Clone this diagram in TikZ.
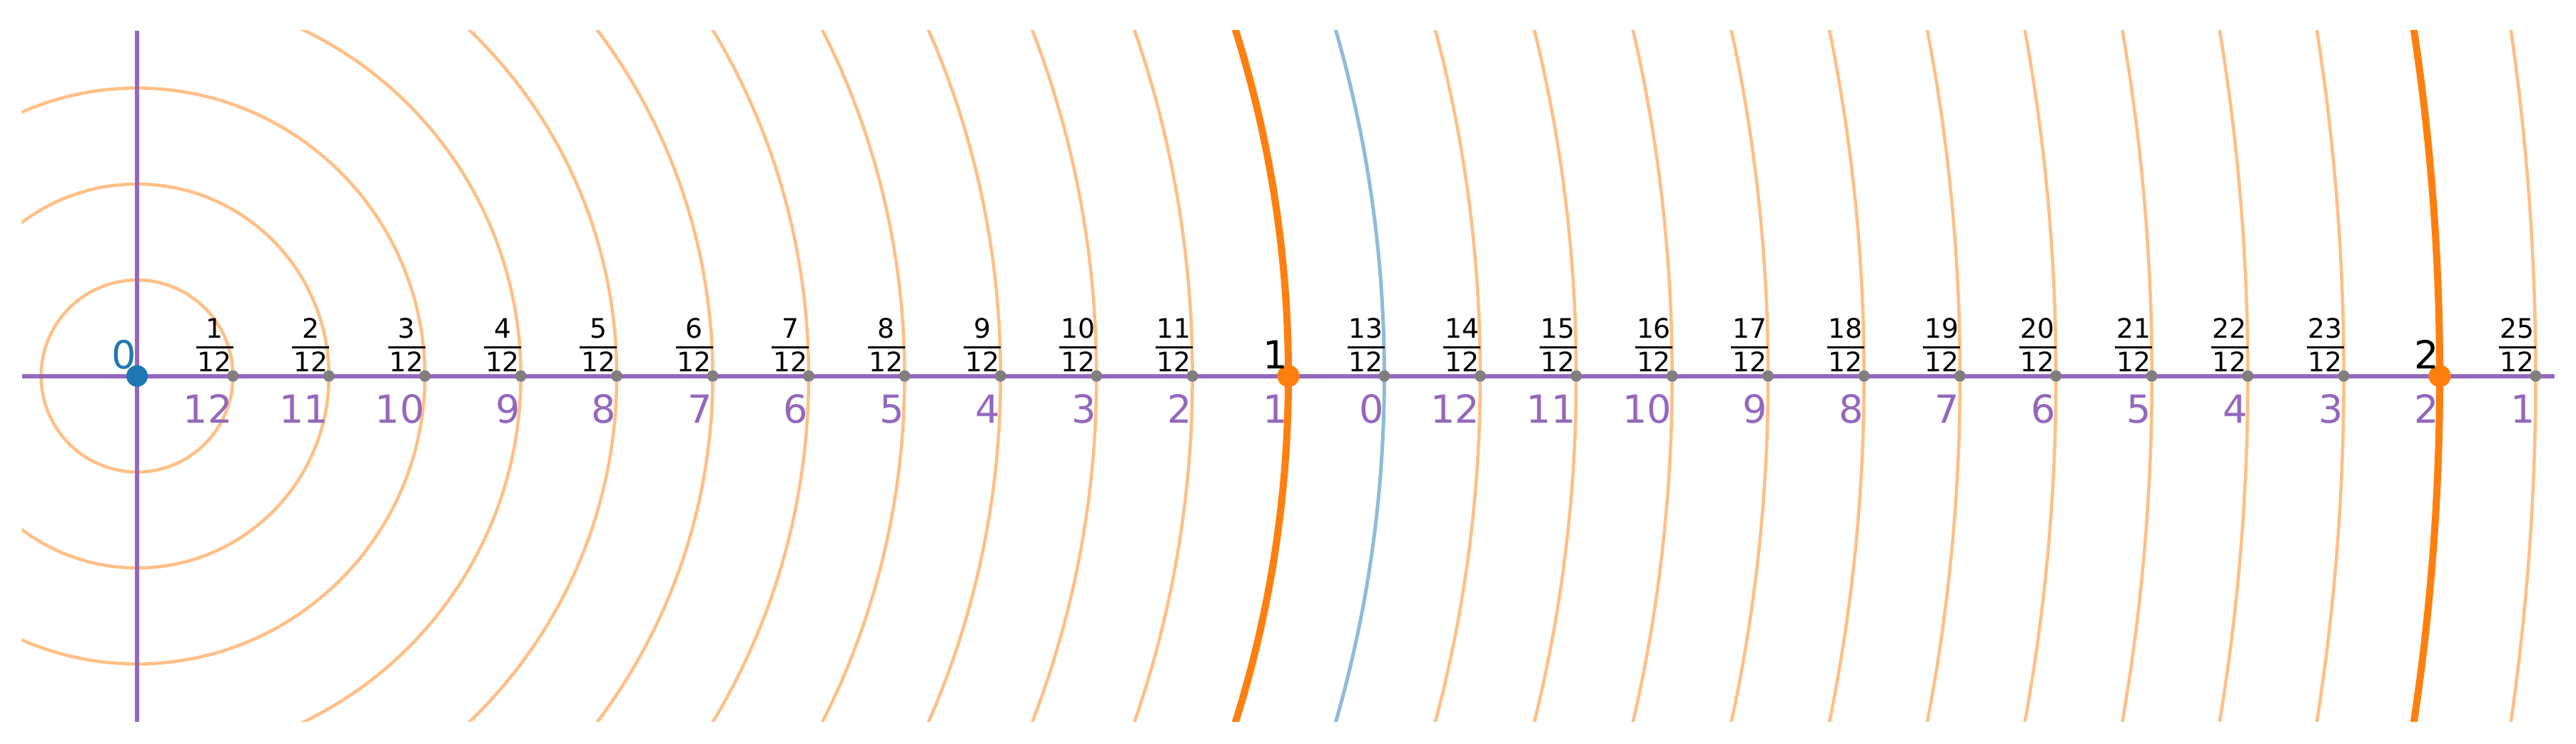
\documentclass[tikz,border=0pt]{standalone}
\usepackage{fontspec}
\setmainfont{DejaVu Sans}
\definecolor{tpurple}{HTML}{9467BD}
\definecolor{torange}{HTML}{FF7F0E}
\definecolor{tblue}{HTML}{1F77B4}
\definecolor{tgray}{HTML}{7F7F7F}
\definecolor{lorange}{RGB}{255,191,134}
\definecolor{lblue}{RGB}{143,187,217}
\newcommand{\twelfth}[1]{\vbox{\hbox to 0.52cm{\hss#1\hss}\kern0.112cm\hrule height 0.03cm\kern0.042cm\hbox to 0.52cm{\hss 12\hss}}}
\tikzset{
  lightcirc/.style={draw=lorange, line width=0.045cm},
  bluecirc/.style={draw=lblue, line width=0.05cm},
  unitcirc/.style={draw=torange, line width=0.1cm},
  axisline/.style={draw=tpurple, line width=0.06cm},
  graydot/.style={circle, fill=tgray, inner sep=0pt, minimum size=0.16cm},
  orangedot/.style={circle, fill=torange, inner sep=0pt, minimum size=0.31cm},
  bluedot/.style={circle, fill=tblue, inner sep=0pt, minimum size=0.30cm},
  fraclabel/.style={anchor=base east, inner sep=0pt, yshift=0.066cm, xshift=0.01cm, font=\fontsize{10.7}{12}\selectfont, text=black},
  biglabel/.style={anchor=base east, inner sep=0pt, yshift=0.098cm, font=\fontsize{15.4}{18}\selectfont},
  steplabel/.style={anchor=base east, inner sep=0pt, yshift=-0.66cm, font=\fontsize{15.4}{18}\selectfont, text=tpurple}
}
\begin{document}
\begin{tikzpicture}[x=16.13cm, y=16.13cm]
\useasboundingbox[fill=white] (-0.11903,-0.31891) rectangle (2.11841,0.32647);
\coordinate (O) at (0,0);
\coordinate (xl) at (-0.1,0);
\coordinate (xr) at (2.1,0);
\coordinate (yb) at (0,-0.3);
\coordinate (yt) at (0,0.3);
\begin{scope}
  \clip (-0.1,-0.3) rectangle (2.1,0.3);
  \foreach \k in {1,...,11,14,15,...,23,25}
    \draw[lightcirc] (O) circle[radius=\k/12];
  \draw[bluecirc] (O) circle[radius=13/12];
  \draw[unitcirc] (O) circle[radius=1];
  \draw[unitcirc] (O) circle[radius=2];
\end{scope}
\draw[axisline] (xl) -- (xr);
\draw[axisline] (yb) -- (yt);
\foreach \k in {1,...,11,13,14,...,23,25}
  \node[graydot] (p\k) at (\k/12,0) {};
\node[orangedot] (p12) at (1,0) {};
\node[orangedot] (p24) at (2,0) {};
\node[bluedot] (p0) at (O) {};
\foreach \k in {1,...,11,13,14,...,23,25}
  \node[fraclabel] (f\k) at (\k/12,0) {\twelfth{\k}};
\node[biglabel, text=tblue] (n0) at (0,0) {0};
\node[biglabel, text=black] (n1) at (1,0) {1};
\node[biglabel, text=black] (n2) at (2,0) {2};
\foreach \k [evaluate=\k as \l using {int(mod(26-\k,13))}] in {1,...,25}
  \node[steplabel] (b\k) at (\k/12,0) {\l};
\end{tikzpicture}
\end{document}
